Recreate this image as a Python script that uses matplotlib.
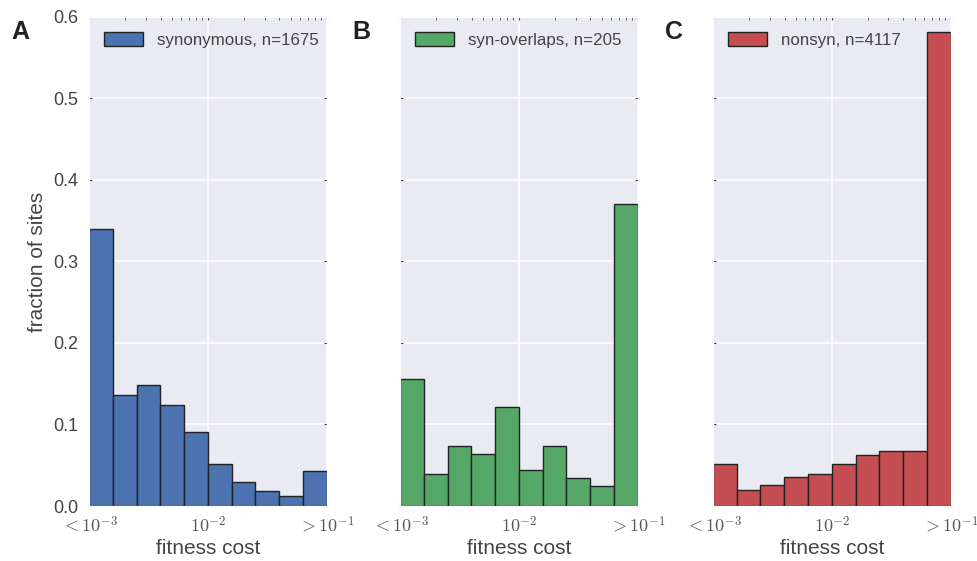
import numpy as np
import matplotlib
matplotlib.use("Agg")
import matplotlib.pyplot as plt
import seaborn as sns

sns.set_style("darkgrid")
plt.rcParams['font.family'] = ['Liberation Sans', 'DejaVu Sans']
plt.rcParams['mathtext.fontset'] = 'cm'

# fraction of sites in each of 10 log-spaced fitness cost bins
syn = [0.340, 0.136, 0.149, 0.124, 0.091, 0.052, 0.029, 0.018, 0.012, 0.043]
syn_overlaps = [0.156, 0.039, 0.074, 0.064, 0.122, 0.044, 0.074, 0.034, 0.025, 0.371]
nonsyn = [0.051, 0.020, 0.026, 0.036, 0.039, 0.052, 0.063, 0.067, 0.068, 0.582]

labels = ["synonymous, n=1675", "syn-overlaps, n=205", "nonsyn, n=4117"]
letters = ["A", "B", "C"]
colors = ["#4C72B0", "#55A868", "#C44E52"]
xticks = [1e-3, 1e-2, 1e-1]
xticklabels = [r"$<10^{-3}$", r"$10^{-2}$", r"$>10^{-1}$"]

edges = np.logspace(-3, -1, 11)

fig = plt.figure(figsize=(9.78, 5.61), dpi=100)
lefts = [0.091, 0.409, 0.729]
letter_x = [0.012, 0.360, 0.680]
for i, vals in enumerate([syn, syn_overlaps, nonsyn]):
    ax = fig.add_axes([lefts[i], 0.098, 0.243, 0.872])
    ax.bar(edges[:-1], vals, width=np.diff(edges), align='edge',
           color=colors[i], edgecolor='#222222', linewidth=1.0, label=labels[i])
    ax.set_xscale('log')
    ax.set_xlim(1e-3, 1e-1)
    ax.set_ylim(0, 0.6)
    ax.set_xticks(xticks)
    ax.set_xticklabels(xticklabels, fontsize=13, color='#555555')
    ax.set_yticks([0.0, 0.1, 0.2, 0.3, 0.4, 0.5, 0.6])
    ax.grid(True, which='major', color='white', linewidth=1.2)
    ax.grid(False, which='minor')
    ax.tick_params(axis='both', which='both', direction='in', length=2,
                   color='#444444', top=True, right=True, bottom=True, left=True)
    ax.tick_params(axis='y', labelsize=13, labelcolor='#444444', pad=8)
    ax.tick_params(axis='x', pad=7)
    ax.set_xlabel("fitness cost", fontsize=15, color='#444444', labelpad=2)
    if i == 0:
        ax.set_ylabel("fraction of sites", fontsize=15, color='#444444')
    else:
        ax.set_yticklabels([])
    leg = ax.legend(loc='upper left', fontsize=12.2, frameon=False,
                    handlelength=2.3, handleheight=0.9, borderaxespad=0.5)
    for t in leg.get_texts():
        t.set_color('#444444')
    fig.text(letter_x[i], 0.965, letters[i], fontsize=18,
             fontweight='bold', va='top', color='#222222')

fig.savefig("out.png", dpi=100)
